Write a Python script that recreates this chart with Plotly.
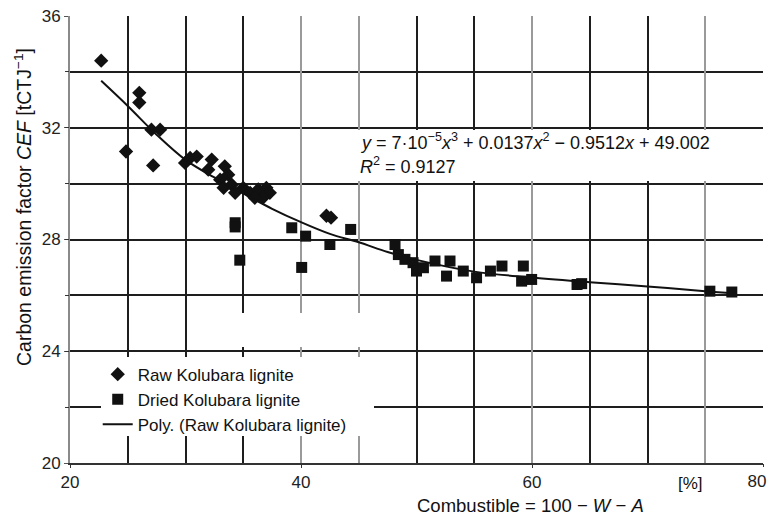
import plotly.graph_objects as go

# ---- data ----
raw_x = [22.7, 24.85, 26.0, 26.0, 27.05, 27.8, 27.2, 29.96, 30.4, 30.97, 32.27, 31.97,
         33.4, 33.0, 33.7, 34.0, 33.3, 34.3, 35.0, 35.6, 36.3, 37.0, 37.3, 36.7, 36.0,
         42.2, 42.6]
raw_y = [34.4, 31.15, 33.25, 32.9, 31.93, 31.93, 30.65, 30.74, 30.92, 30.97, 30.86, 30.5,
         30.62, 30.14, 30.32, 29.96, 29.85, 29.67, 29.85, 29.67, 29.79, 29.85, 29.67, 29.49, 29.49,
         28.85, 28.78]

dried_x = [34.3, 34.3, 34.7, 39.2, 40.4, 40.06, 42.5, 44.3, 48.14, 48.43, 49.0, 49.7, 50.0,
           50.6, 51.6, 52.9, 52.6, 54.05, 55.2, 56.4, 57.4, 59.25, 59.1, 59.97, 63.9, 64.3,
           75.4, 77.3]
dried_y = [28.6, 28.45, 27.26, 28.42, 28.12, 27.0, 27.82, 28.36, 27.82, 27.46, 27.29, 27.17, 26.87,
           26.99, 27.23, 27.23, 26.69, 26.87, 26.63, 26.87, 27.05, 27.05, 26.51, 26.57, 26.39, 26.42,
           26.15, 26.12]

trend_x = [22.7, 25, 27.5, 30, 32.5, 35, 37.5, 40, 42.5, 45, 47.5, 50, 55, 60, 65, 70, 75, 77.5]
trend_y = [33.68, 32.78, 31.75, 30.85, 30.22, 29.65, 29.1, 28.62, 28.2, 27.9, 27.55, 27.27,
           26.85, 26.64, 26.47, 26.32, 26.15, 26.08]

x_ticks = [20, 40, 60]
x_tick_end = [80]
y_ticks = [20, 24, 28, 32, 36]
x_grid_dark = [25, 30, 35, 50, 55, 65, 70]
x_grid_gray = [40, 45, 60, 75, 80]
y_grid_dark = [22, 24, 26, 28, 30, 32, 34]

FONT = "Liberation Sans, Arial, sans-serif"
INK = "#111111"

fig = go.Figure()

# empty helper traces so overlay axes are drawn
fig.add_trace(go.Scatter(x=[], y=[], xaxis="x2", yaxis="y2", showlegend=False))
fig.add_trace(go.Scatter(x=[], y=[], xaxis="x3", yaxis="y3", showlegend=False))
fig.add_trace(go.Scatter(x=[], y=[], xaxis="x4", yaxis="y", showlegend=False))

fig.add_trace(go.Scatter(x=raw_x, y=raw_y, mode="markers", name="Raw Kolubara lignite",
                         marker=dict(symbol="diamond", size=11, color=INK)))
fig.add_trace(go.Scatter(x=dried_x, y=dried_y, mode="markers", name="Dried Kolubara lignite",
                         marker=dict(symbol="square", size=11, color=INK)))
fig.add_trace(go.Scatter(x=trend_x, y=trend_y, mode="lines", line_shape="spline",
                         name="Poly. (Raw Kolubara lignite)",
                         line=dict(color=INK, width=2)))

common_x = dict(range=[20, 80], showline=False, zeroline=False)
common_y = dict(range=[20, 36], showline=False, zeroline=False)
tick_font = dict(size=17, family=FONT, color="#222222")

fig.update_layout(
    width=770, height=515,
    margin=dict(l=70, r=7, t=16, b=52, autoexpand=False),
    paper_bgcolor="white", plot_bgcolor="white",
    font=dict(family=FONT, size=17, color=INK),
    xaxis=dict(range=[20, 80], tickvals=x_ticks, ticktext=[str(v) for v in x_ticks],
               showgrid=False, zeroline=False, showline=True, linecolor="#333333", linewidth=2,
               ticks="outside", ticklen=3, tickcolor="#333333", automargin=False,
               tickfont=tick_font),
    xaxis4=dict(common_x, overlaying="x", anchor="y", side="bottom", tickvals=x_tick_end,
                ticktext=[str(v) for v in x_tick_end], showgrid=False, ticks="outside",
                ticklen=3, tickcolor="#333333", ticklabelshift=-6, automargin=False,
                tickfont=tick_font),
    yaxis=dict(range=[20, 36], tickvals=y_ticks, ticktext=[str(v) for v in y_ticks],
               showgrid=False, zeroline=False, showline=True, linecolor="#8a8a8a", linewidth=2,
               ticks="outside", ticklen=4, tickcolor="#555555", automargin=False,
               tickfont=tick_font),
    xaxis2=dict(common_x, overlaying="x", anchor="y", tickvals=x_grid_dark, showticklabels=False,
                showgrid=True, gridcolor="#1e1e1e", gridwidth=2, ticks=""),
    xaxis3=dict(common_x, overlaying="x", anchor="y", tickvals=x_grid_gray, showticklabels=False,
                showgrid=True, gridcolor="#9a9a9a", gridwidth=1.5, ticks=""),
    yaxis2=dict(common_y, overlaying="y", anchor="x", tickvals=y_grid_dark, showticklabels=False,
                showgrid=True, gridcolor="#1e1e1e", gridwidth=2, ticks="outside", ticklen=4,
                tickcolor="#333333"),
    yaxis3=dict(common_y, overlaying="y", anchor="x", tickvals=[36], showticklabels=False,
                showgrid=True, gridcolor="#b0b0b0", gridwidth=1.5, griddash="dot", ticks=""),
    legend=dict(x=0.04, y=0.238, xanchor="left", yanchor="top", bgcolor="rgba(0,0,0,0)",
                borderwidth=0, font=dict(size=17, family=FONT, color=INK),
                tracegroupgap=0, itemwidth=30),
    showlegend=True,
)

def px_rect(x0, x1, y0, y1):
    fig.add_shape(type="rect", xref="paper", yref="paper",
                  x0=(x0 - 70) / 693, x1=(x1 - 70) / 693,
                  y0=1 - (y1 - 16) / 447, y1=1 - (y0 - 16) / 447,
                  fillcolor="white", line_width=0, layer="above")

# white patches covering the grid (equation box, scan blank, legend box)
px_rect(358, 730, 130, 181)
px_rect(200, 372, 313, 347)
px_rect(101, 374, 357, 436)

eq_font = dict(size=18, family=FONT, color=INK)
fig.add_annotation(xref="paper", yref="paper", x=(358-70)/693, y=1-(141-16)/447,
                   xanchor="left", yanchor="middle", showarrow=False,
                   text="<i>y</i> = 7·10<sup>−5</sup><i>x</i><sup>3</sup> + 0.0137<i>x</i><sup>2</sup> − 0.9512<i>x</i> + 49.002",
                   font=eq_font)
fig.add_annotation(xref="paper", yref="paper", x=(358-70)/693, y=1-(166-16)/447,
                   xanchor="left", yanchor="middle", showarrow=False,
                   text="<i>R</i><sup>2</sup> = 0.9127", font=eq_font)

fig.add_annotation(xref="paper", yref="paper", x=(530-70)/693, y=-(506-463)/447,
                   xanchor="center", yanchor="middle", showarrow=False,
                   text="Combustible = 100 − <i>W</i> − <i>A</i>",
                   font=dict(size=18.5, family=FONT, color=INK))
fig.add_annotation(xref="paper", yref="paper", x=(690-70)/693, y=-(483-463)/447,
                   xanchor="center", yanchor="middle", showarrow=False,
                   text="[%]", font=dict(size=17, family=FONT, color=INK))
fig.add_annotation(xref="paper", yref="paper", x=(23-70)/693, y=1-(207-16)/447,
                   xanchor="center", yanchor="middle", showarrow=False, textangle=-90,
                   text="Carbon emission factor <i>CEF</i> [tCTJ<sup>−1</sup>]",
                   font=dict(size=19.5, family=FONT, color=INK))

fig.write_html("out.html")
